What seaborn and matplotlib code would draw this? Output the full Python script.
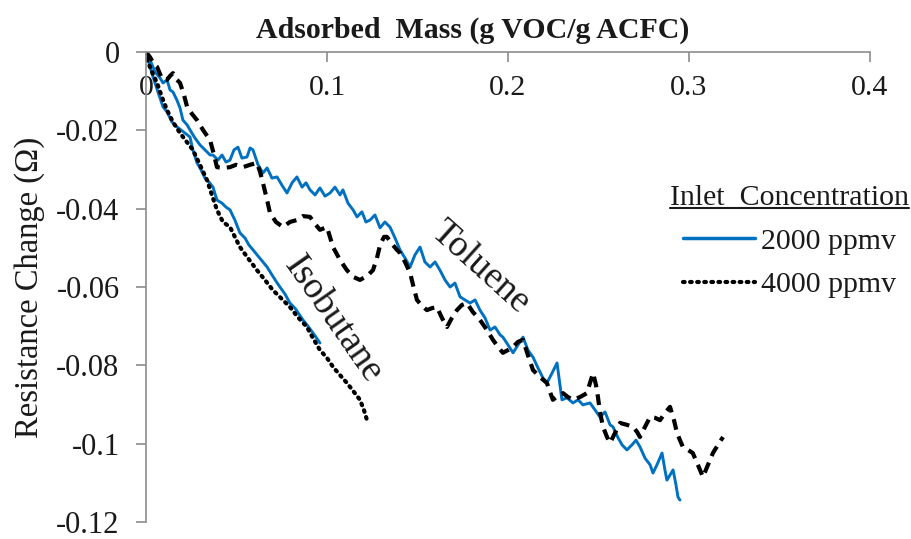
import matplotlib
matplotlib.use("Agg")
import numpy as np
import pandas as pd
import seaborn as sns
import matplotlib.pyplot as plt
from matplotlib.lines import Line2D

# ---------------- data ----------------
tol2000_x = [0, 0.0022, 0.005, 0.0077, 0.0094, 0.0116, 0.0133, 0.0149, 0.0171, 0.0188, 0.0204, 0.0227, 0.0243, 0.0271,
             0.0298, 0.0326, 0.0354, 0.037, 0.0398, 0.042, 0.0442, 0.0464, 0.0486, 0.0508, 0.053, 0.0558, 0.0575, 0.0591,
             0.0619, 0.0646, 0.0669, 0.0696, 0.0724, 0.0751, 0.0779, 0.0807, 0.0834, 0.0862, 0.0884, 0.0906, 0.0934,
             0.0961, 0.0989, 0.1017, 0.1044, 0.1072, 0.1088, 0.1116, 0.1144, 0.1166, 0.1193, 0.1215, 0.1238, 0.1265,
             0.1293, 0.132, 0.1348, 0.1376, 0.1403, 0.1431, 0.1459, 0.1486, 0.1514, 0.1541, 0.1569, 0.1597, 0.1624,
             0.1652, 0.168, 0.1707, 0.1735, 0.1762, 0.179, 0.1818, 0.1845, 0.1873, 0.1901, 0.1928, 0.1956, 0.1972, 0.2,
             0.2028, 0.2055, 0.2083, 0.211, 0.2138, 0.2166, 0.2193, 0.2215, 0.2243, 0.2271, 0.2287, 0.2298, 0.2326,
             0.2359, 0.2387, 0.2414, 0.2453, 0.2481, 0.2508, 0.2536, 0.2564, 0.258, 0.2608, 0.263, 0.2657, 0.2685,
             0.2707, 0.2729, 0.2757, 0.2785, 0.2801, 0.2823, 0.2851, 0.2867, 0.2878, 0.2895, 0.2912, 0.2928, 0.2939,
             0.295]
tol2000_y = [0, -0.0020, -0.0051, -0.0066, -0.0079, -0.0071, -0.0097, -0.0102, -0.0123, -0.0143, -0.0174, -0.0186,
             -0.0199, -0.0220, -0.0237, -0.0250, -0.0263, -0.0263, -0.0276, -0.0263, -0.0281, -0.0276, -0.0250, -0.0243,
             -0.0271, -0.0268, -0.0245, -0.0250, -0.0288, -0.0309, -0.0296, -0.0322, -0.0319, -0.0340, -0.0360, -0.0334,
             -0.0319, -0.0345, -0.0334, -0.0352, -0.0365, -0.0347, -0.0368, -0.0360, -0.0345, -0.0365, -0.0352, -0.0386,
             -0.0403, -0.0421, -0.0408, -0.0434, -0.0429, -0.0416, -0.0449, -0.0434, -0.0447, -0.0475, -0.0505, -0.0526,
             -0.0549, -0.0518, -0.0498, -0.0536, -0.0549, -0.0536, -0.0557, -0.0582, -0.0600, -0.0590, -0.0625, -0.0633,
             -0.0641, -0.0633, -0.0659, -0.0679, -0.0710, -0.0702, -0.0722, -0.0728, -0.0748, -0.0768, -0.0748, -0.0728,
             -0.0761, -0.0779, -0.0807, -0.0832, -0.0845, -0.0820, -0.0794, -0.0850, -0.0888, -0.0883, -0.0896, -0.0888,
             -0.0901, -0.0896, -0.0914, -0.0932, -0.0919, -0.0952, -0.0957, -0.0985, -0.1003, -0.1016, -0.1003, -0.0991,
             -0.1008, -0.1037, -0.1054, -0.1075, -0.1054, -0.1024, -0.1067, -0.1093, -0.1080, -0.1067, -0.1105, -0.1136,
             -0.1144]

tol4000_x = [0, 0.0022, 0.0044, 0.0061, 0.0077, 0.0094, 0.0116, 0.0133, 0.0149, 0.0171, 0.0188, 0.0210, 0.0227, 0.0254,
             0.0282, 0.0315, 0.0354, 0.0376, 0.0392, 0.0425, 0.0464, 0.0497, 0.0536, 0.0575, 0.0613, 0.0630, 0.0646,
             0.0669, 0.0685, 0.0718, 0.0757, 0.0795, 0.0834, 0.0867, 0.0906, 0.0934, 0.0961, 0.1000, 0.1033, 0.1072,
             0.1110, 0.1144, 0.1182, 0.1221, 0.1254, 0.1276, 0.1293, 0.1315, 0.1331, 0.1359, 0.1386, 0.1403, 0.1431,
             0.1459, 0.1480, 0.1497, 0.1525, 0.1552, 0.1580, 0.1607, 0.1635, 0.1663, 0.1690, 0.1718, 0.1745, 0.1773,
             0.1806, 0.1845, 0.1884, 0.1917, 0.1945, 0.1972, 0.2000, 0.2028, 0.2055, 0.2083, 0.2110, 0.2138, 0.2177,
             0.2215, 0.2232, 0.2248, 0.2276, 0.2304, 0.2331, 0.2359, 0.2398, 0.2436, 0.2453, 0.2470, 0.2486, 0.2497,
             0.2508, 0.2525, 0.2547, 0.2564, 0.2591, 0.2619, 0.2657, 0.2691, 0.2713, 0.2729, 0.2757, 0.2785, 0.2812,
             0.2840, 0.2867, 0.2895, 0.2917, 0.2934, 0.2950, 0.2966, 0.2994, 0.3021, 0.3049, 0.3077, 0.3105, 0.3132,
             0.3160, 0.3188]
tol4000_y = [0, -0.0013, -0.0031, -0.0038, -0.0056, -0.0071, -0.0071, -0.0061, -0.0054, -0.0071, -0.0079, -0.0110,
             -0.0140, -0.0158, -0.0174, -0.0199, -0.0225, -0.0263, -0.0294, -0.0296, -0.0294, -0.0288, -0.0294, -0.0288,
             -0.0283, -0.0306, -0.0334, -0.0378, -0.0411, -0.0434, -0.0447, -0.0434, -0.0429, -0.0419, -0.0421, -0.0439,
             -0.0454, -0.0447, -0.0498, -0.0531, -0.0557, -0.0574, -0.0582, -0.0572, -0.0557, -0.0526, -0.0493, -0.0472,
             -0.0472, -0.0490, -0.0505, -0.0513, -0.0536, -0.0564, -0.0603, -0.0633, -0.0648, -0.0659, -0.0654, -0.0651,
             -0.0679, -0.0702, -0.0679, -0.0659, -0.0646, -0.0641, -0.0664, -0.0684, -0.0710, -0.0735, -0.0753, -0.0768,
             -0.0761, -0.0753, -0.0740, -0.0735, -0.0774, -0.0812, -0.0830, -0.0845, -0.0868, -0.0888, -0.0878, -0.0871,
             -0.0881, -0.0888, -0.0881, -0.0871, -0.0845, -0.0820, -0.0850, -0.0881, -0.0919, -0.0957, -0.0983, -0.0998,
             -0.0973, -0.0947, -0.0952, -0.0957, -0.0970, -0.0983, -0.0957, -0.0932, -0.0934, -0.0940, -0.0922, -0.0906,
             -0.0940, -0.0973, -0.0991, -0.1008, -0.1016, -0.1024, -0.1054, -0.1085, -0.1054, -0.1024, -0.1003, -0.0983]

iso2000_x = [0, 0.0011, 0.0022, 0.0044, 0.0066, 0.0094, 0.0116, 0.0144, 0.0171, 0.0193, 0.0221, 0.0243, 0.0259, 0.0282,
             0.0304, 0.0326, 0.0348, 0.0370, 0.0392, 0.0420, 0.0442, 0.0464, 0.0491, 0.0519, 0.0547, 0.0569, 0.0591,
             0.0619, 0.0646, 0.0669, 0.0696, 0.0718, 0.0740, 0.0768, 0.0795, 0.0823, 0.0845, 0.0867, 0.0895, 0.0922,
             0.0939, 0.0961]
iso2000_y = [0, -0.0015, -0.0038, -0.0071, -0.0102, -0.0140, -0.0153, -0.0179, -0.0191, -0.0199, -0.0209, -0.0217,
             -0.0250, -0.0283, -0.0301, -0.0322, -0.0332, -0.0345, -0.0378, -0.0386, -0.0396, -0.0403, -0.0429, -0.0462,
             -0.0475, -0.0493, -0.0505, -0.0521, -0.0536, -0.0549, -0.0569, -0.0585, -0.0600, -0.0618, -0.0641, -0.0654,
             -0.0669, -0.0684, -0.0700, -0.0717, -0.0728, -0.0743]

iso4000_x = [0, 0.0006, 0.0033, 0.0061, 0.0088, 0.0116, 0.0149, 0.0188, 0.0221, 0.0259, 0.0298, 0.0337, 0.0364, 0.0392,
             0.0425, 0.0464, 0.0491, 0.0519, 0.0563, 0.0613, 0.0657, 0.0701, 0.0745, 0.0795, 0.0839, 0.0889, 0.0922,
             0.0961, 0.1000, 0.1033, 0.1072, 0.1110, 0.1144, 0.1182, 0.1204, 0.1221]
iso4000_y = [0, -0.0020, -0.0051, -0.0079, -0.0115, -0.0148, -0.0179, -0.0207, -0.0227, -0.0250, -0.0288, -0.0327,
             -0.0365, -0.0403, -0.0434, -0.0447, -0.0472, -0.0498, -0.0526, -0.0557, -0.0582, -0.0608, -0.0628, -0.0651,
             -0.0677, -0.0702, -0.0730, -0.0761, -0.0781, -0.0804, -0.0825, -0.0845, -0.0865, -0.0888, -0.0914, -0.0940]

x_ticks = [0, 0.1, 0.2, 0.3, 0.4]
x_tick_labels = ["0", "0.1", "0.2", "0.3", "0.4"]
y_ticks = [0, -0.02, -0.04, -0.06, -0.08, -0.1, -0.12]
y_tick_labels = ["0", "-0.02", "-0.04", "-0.06", "-0.08", "-0.1", "-0.12"]
legend_title = "Inlet  Concentration"
legend_labels = ["2000 ppmv", "4000 ppmv"]

# ---------------- style ----------------
sns.set_theme(style="white")
plt.rcParams['font.family'] = ['Liberation Serif', 'DejaVu Serif']

BLUE = "#0070C0"
AXCOL = "#8c8c8c"
TXT = "#1a1a1a"

fig = plt.figure(figsize=(9.12, 5.39), dpi=100)
ax = fig.add_axes([146 / 912, 1 - 522 / 539, (870 - 146) / 912, (522 - 52) / 539])

def draw(xs, ys, **kw):
    df = pd.DataFrame({"mass": xs, "dR": ys})
    sns.lineplot(data=df, x="mass", y="dR", sort=False, estimator=None, ax=ax, **kw)

draw(tol2000_x, tol2000_y, color=BLUE, linewidth=2.1)
draw(iso2000_x, iso2000_y, color=BLUE, linewidth=2.1)
draw(tol4000_x, tol4000_y, color="black", linewidth=3.0, linestyle=(0, (2.6, 1.7)))
draw(iso4000_x, iso4000_y, color="black", linewidth=3.0, linestyle=(0, (0.4, 1.3)),
     dash_capstyle="round")

ax.set_xlim(0, 0.4)
ax.set_ylim(-0.12, 0)
ax.set_xticks(x_ticks)
ax.set_xticklabels(x_tick_labels)
ax.set_yticks(y_ticks)
ax.set_yticklabels(y_tick_labels)

for s in ["right", "bottom"]:
    ax.spines[s].set_visible(False)
for s in ["left", "top"]:
    ax.spines[s].set_color(AXCOL)
    ax.spines[s].set_linewidth(1.2)

ax.xaxis.set_ticks_position("top")
ax.xaxis.set_label_position("top")
ax.tick_params(axis="x", direction="in", length=7, width=1.2, color=AXCOL,
               labelsize=21.5, pad=-16.5, labelcolor=TXT)
ax.tick_params(axis="y", direction="out", length=7, width=1.2, color=AXCOL,
               labelsize=22, pad=12, labelcolor=TXT, left=True)
for lab in ax.get_xticklabels():
    lab.set_verticalalignment("top")

ax.set_xlabel("Adsorbed  Mass (g VOC/g ACFC)", fontsize=21.5, fontweight="bold", labelpad=10, color=TXT)
ax.xaxis.label.set_x(0.451)
ax.set_ylabel("Resistance Change (\u03a9)", fontsize=23.5, labelpad=8, color=TXT)

ax.text(0.1845, -0.0549, "Toluene", fontsize=27, rotation=-42, ha="center", va="center",
        rotation_mode="anchor", color=TXT)
ax.text(0.1033, -0.0684, "Isobutane", fontsize=27, rotation=-55, ha="center", va="center",
        rotation_mode="anchor", color=TXT)

handles = [Line2D([], [], color=BLUE, linewidth=2.5),
           Line2D([], [], color="black", linewidth=3.0, linestyle=(0, (0.4, 1.3)), dash_capstyle="round")]
leg = ax.legend(handles, legend_labels, title=legend_title,
                loc="upper left", bbox_to_anchor=(670 / 912, 1 - 185 / 539),
                bbox_transform=fig.transFigure, frameon=False, fontsize=21.5, title_fontsize=21.5,
                handlelength=2.4, handletextpad=0.2, labelspacing=0.56, borderpad=0, borderaxespad=0)
for t in leg.get_texts():
    t.set_color(TXT)
leg.get_title().set_color(TXT)

# underline the legend title
fig.canvas.draw()
bb = leg.get_title().get_window_extent(fig.canvas.get_renderer())
inv = fig.transFigure.inverted()
(x0, y0), (x1, _) = inv.transform([(bb.x0, bb.y0 + 3), (bb.x1, bb.y0 + 3)])
fig.add_artist(Line2D([x0, x1], [y0, y0], transform=fig.transFigure, color=TXT, linewidth=1.5))

fig.savefig("out.png", dpi=100)
